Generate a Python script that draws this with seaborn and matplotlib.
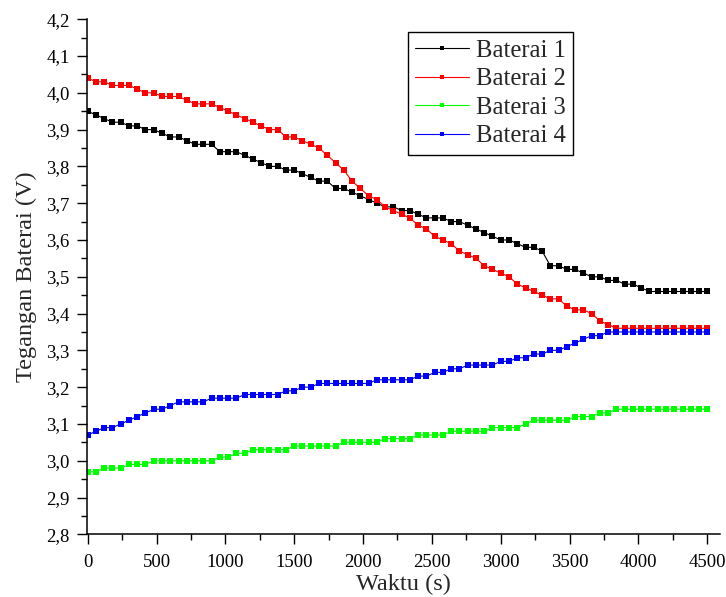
import numpy as np
import pandas as pd
import matplotlib
matplotlib.use('Agg')
import matplotlib.pyplot as plt
from matplotlib.lines import Line2D
from matplotlib.ticker import MultipleLocator, FuncFormatter
import seaborn as sns

# time axis (s), one reading every 60 s
waktu = list(range(0, 4501, 60))

baterai_1 = [3.95, 3.94, 3.93, 3.92, 3.92, 3.91, 3.91, 3.90, 3.90, 3.89,
             3.88, 3.88, 3.87, 3.86, 3.86, 3.86, 3.84, 3.84, 3.84, 3.83,
             3.82, 3.81, 3.80, 3.80, 3.79, 3.79, 3.78, 3.77, 3.76, 3.76,
             3.74, 3.74, 3.73, 3.72, 3.71, 3.70, 3.69, 3.69, 3.68, 3.68,
             3.67, 3.66, 3.66, 3.66, 3.65, 3.65, 3.64, 3.63, 3.62, 3.61,
             3.60, 3.60, 3.59, 3.58, 3.58, 3.57, 3.53, 3.53, 3.52, 3.52,
             3.51, 3.50, 3.50, 3.49, 3.49, 3.48, 3.48, 3.47, 3.46, 3.46,
             3.46, 3.46, 3.46, 3.46, 3.46, 3.46]

baterai_2 = [4.04, 4.03, 4.03, 4.02, 4.02, 4.02, 4.01, 4.00, 4.00, 3.99,
             3.99, 3.99, 3.98, 3.97, 3.97, 3.97, 3.96, 3.95, 3.94, 3.93,
             3.92, 3.91, 3.90, 3.90, 3.88, 3.88, 3.87, 3.86, 3.85, 3.83,
             3.81, 3.79, 3.76, 3.74, 3.72, 3.71, 3.69, 3.68, 3.67, 3.66,
             3.64, 3.63, 3.61, 3.60, 3.59, 3.57, 3.56, 3.55, 3.53, 3.52,
             3.51, 3.50, 3.48, 3.47, 3.46, 3.45, 3.44, 3.44, 3.42, 3.41,
             3.41, 3.40, 3.38, 3.37, 3.36, 3.36, 3.36, 3.36, 3.36, 3.36,
             3.36, 3.36, 3.36, 3.36, 3.36, 3.36]

baterai_3 = [2.97, 2.97, 2.98, 2.98, 2.98, 2.99, 2.99, 2.99, 3.00, 3.00,
             3.00, 3.00, 3.00, 3.00, 3.00, 3.00, 3.01, 3.01, 3.02, 3.02,
             3.03, 3.03, 3.03, 3.03, 3.03, 3.04, 3.04, 3.04, 3.04, 3.04,
             3.04, 3.05, 3.05, 3.05, 3.05, 3.05, 3.06, 3.06, 3.06, 3.06,
             3.07, 3.07, 3.07, 3.07, 3.08, 3.08, 3.08, 3.08, 3.08, 3.09,
             3.09, 3.09, 3.09, 3.10, 3.11, 3.11, 3.11, 3.11, 3.11, 3.12,
             3.12, 3.12, 3.13, 3.13, 3.14, 3.14, 3.14, 3.14, 3.14, 3.14,
             3.14, 3.14, 3.14, 3.14, 3.14, 3.14]

baterai_4 = [3.07, 3.08, 3.09, 3.09, 3.10, 3.11, 3.12, 3.13, 3.14, 3.14,
             3.15, 3.16, 3.16, 3.16, 3.16, 3.17, 3.17, 3.17, 3.17, 3.18,
             3.18, 3.18, 3.18, 3.18, 3.19, 3.19, 3.20, 3.20, 3.21, 3.21,
             3.21, 3.21, 3.21, 3.21, 3.21, 3.22, 3.22, 3.22, 3.22, 3.22,
             3.23, 3.23, 3.24, 3.24, 3.25, 3.25, 3.26, 3.26, 3.26, 3.26,
             3.27, 3.27, 3.28, 3.28, 3.29, 3.29, 3.30, 3.30, 3.31, 3.32,
             3.33, 3.34, 3.34, 3.35, 3.35, 3.35, 3.35, 3.35, 3.35, 3.35,
             3.35, 3.35, 3.35, 3.35, 3.35, 3.35]

labels = ['Baterai 1', 'Baterai 2', 'Baterai 3', 'Baterai 4']
colors = ['#000000', '#ff0000', '#00ff00', '#0000ff']

df = pd.DataFrame({
    'Waktu': waktu * 4,
    'Tegangan': baterai_1 + baterai_2 + baterai_3 + baterai_4,
    'Seri': [lab for lab in labels for _ in waktu],
})

sns.set_style('ticks')
plt.rcParams['font.family'] = ['Liberation Serif', 'DejaVu Serif']

fig = plt.figure(figsize=(7.26, 5.97), dpi=100)
ax = fig.add_axes([0.1198, 0.105, 0.8719, 0.8628])

sns.lineplot(data=df, x='Waktu', y='Tegangan', hue='Seri', palette=colors,
             marker='s', markersize=3.7, markeredgewidth=0, linewidth=0.8,
             estimator=None, sort=False, legend=False, ax=ax)

ax.set_xlim(-5, 4592)
ax.set_ylim(2.8, 4.2)
ax.xaxis.set_major_locator(MultipleLocator(500))
ax.xaxis.set_minor_locator(MultipleLocator(250))
ax.yaxis.set_major_locator(MultipleLocator(0.1))
ax.yaxis.set_minor_locator(MultipleLocator(0.05))
ax.yaxis.set_major_formatter(FuncFormatter(lambda v, p: f'{v:.1f}'.replace('.', ',')))

sns.despine(ax=ax)
for side in ['left', 'bottom']:
    ax.spines[side].set_color('black')
    ax.spines[side].set_linewidth(1.1)
ax.tick_params(which='major', direction='out', length=7, width=1, colors='black',
               labelsize=13.5)
ax.tick_params(axis='x', which='major', pad=7)
ax.tick_params(axis='y', which='major', pad=5.5)
ax.tick_params(which='minor', direction='out', length=4, width=1, colors='black')

ax.set_xlabel('Waktu (s)', fontsize=17.5, labelpad=2)
ax.set_ylabel('Tegangan Baterai (V)', fontsize=17.5, labelpad=7)

handles = [Line2D([0], [0], color=c, lw=0.8, marker='s', markersize=3,
                  markeredgewidth=0) for c in colors]
leg = ax.legend(handles, labels, loc='upper left', bbox_to_anchor=(0.507, 0.975),
                fontsize=17.7, frameon=True, fancybox=False, edgecolor='black',
                framealpha=1, borderpad=0.3, labelspacing=0.26,
                handlelength=2.2, handletextpad=0.25, borderaxespad=0)
leg.get_frame().set_linewidth(1.0)

fig.savefig('out.png', dpi=100)
